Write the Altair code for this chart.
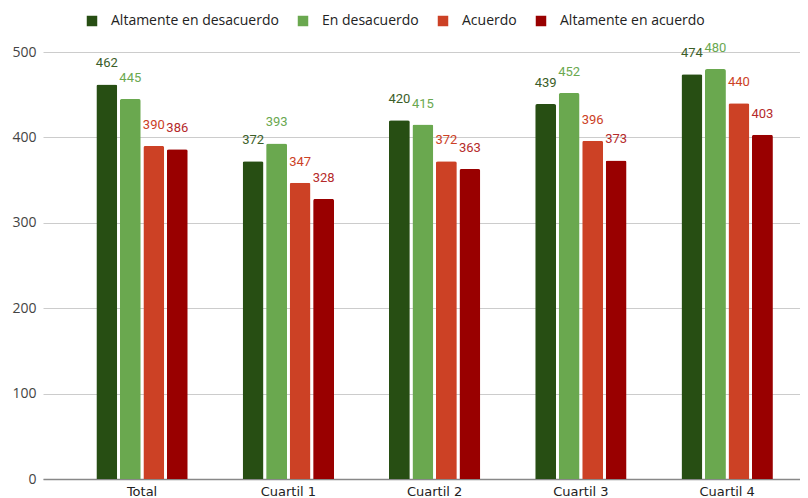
import altair as alt
import pandas as pd

categories = ["Total", "Cuartil 1", "Cuartil 2", "Cuartil 3", "Cuartil 4"]
series = ["Altamente en desacuerdo", "En desacuerdo", "Acuerdo", "Altamente en acuerdo"]
alt_desacuerdo = [462, 372, 420, 439, 474]
en_desacuerdo = [445, 393, 415, 452, 480]
acuerdo = [390, 347, 372, 396, 440]
alt_acuerdo = [386, 328, 363, 373, 403]
y_ticks = [0, 100, 200, 300, 400, 500]

bar_colors = ["#274e13", "#6aa84f", "#cc4125", "#990000"]
label_colors = ["#3b5e28", "#6aa84f", "#cc4125", "#b52a2a"]

rows = []
for s, vals in zip(series, [alt_desacuerdo, en_desacuerdo, acuerdo, alt_acuerdo]):
    for c, v in zip(categories, vals):
        rows.append({"cat": c, "serie": s, "valor": v})
df = pd.DataFrame(rows)

x = alt.X("cat:N", sort=categories, title=None,
          scale=alt.Scale(paddingInner=0.359, paddingOuter=0.267, align=0.668),
          axis=alt.Axis(labelAngle=0, ticks=False, labelPadding=6, domainColor="#888",
                        domainWidth=1.5, labelFont="DejaVu Sans", labelFontSize=13,
                        labelColor="#222"))
xo = alt.XOffset("serie:N", sort=series,
                 scale=alt.Scale(paddingInner=0.11, paddingOuter=0.05))
y = alt.Y("valor:Q", title=None,
          scale=alt.Scale(domain=[0, 500], nice=False),
          axis=alt.Axis(values=y_ticks, ticks=False, domain=False, labelPadding=7,
                        gridColor="#cccccc", labelFont="Open Sans", labelFontSize=14,
                        labelColor="#444"))

bars = alt.Chart(df).mark_bar(cornerRadiusTopLeft=2, cornerRadiusTopRight=2).encode(
    x=x, xOffset=xo, y=y,
    color=alt.Color("serie:N", sort=series, title=None,
                    scale=alt.Scale(domain=series, range=bar_colors),
                    legend=alt.Legend(orient="none", direction="horizontal",
                                      legendX=42, legendY=-38, symbolType="square",
                                      symbolSize=110, symbolStrokeWidth=0,
                                      labelFont="Open Sans", labelFontSize=14,
                                      labelColor="#222", labelOffset=12,
                                      columnPadding=17, padding=0, labelLimit=400))
)

labels = alt.Chart(df).mark_text(baseline="middle", dy=-21, font="Roboto",
                                 fontSize=13, fontWeight=400).encode(
    x=x, xOffset=xo, y=y,
    text=alt.Text("valor:Q"),
    color=alt.Color("serie:N", sort=series,
                    scale=alt.Scale(domain=series, range=label_colors), legend=None)
)

chart = alt.layer(bars, labels).resolve_scale(color="independent").properties(
    width=757, height=427,
    autosize=alt.AutoSizeParams(type="none"),
    padding={"left": 35, "top": 44, "right": 0, "bottom": 19},
).configure_view(stroke=None)

chart.save("out.html", embed_options={"renderer": "svg", "actions": False})
